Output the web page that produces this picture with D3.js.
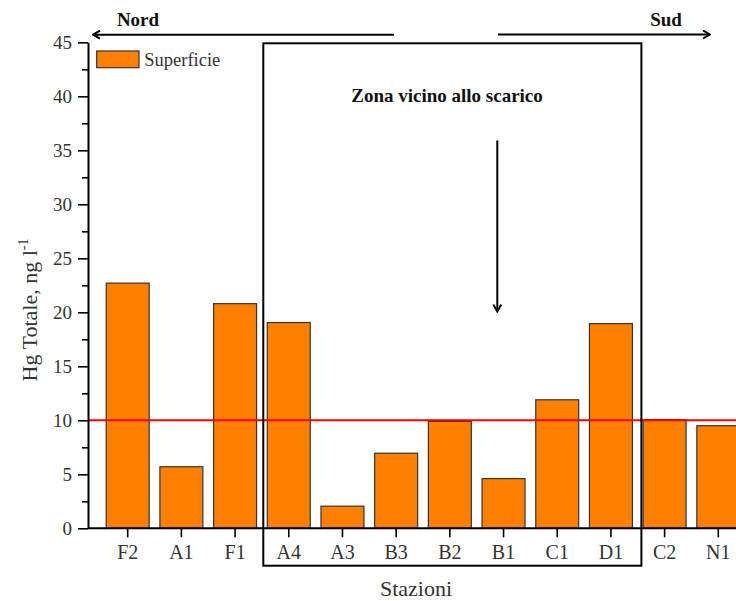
<!DOCTYPE html>
<html>
<head>
<meta charset="utf-8">
<script src="https://cdn.jsdelivr.net/npm/d3@7"></script>
<style>
  html, body { margin: 0; padding: 0; background: #fff; }
  svg { display: block; font-family: "Liberation Serif", "Times New Roman", serif; }
</style>
</head>
<body>
<svg id="chart" width="736" height="601"></svg>
<script>
// ---- data ----
const stations = ["F2", "A1", "F1", "A4", "A3", "B3", "B2", "B1", "C1", "D1", "C2", "N1"];
const superficie = [22.7, 5.7, 20.8, 19.05, 2.05, 6.95, 9.9, 4.6, 11.9, 18.95, 10.05, 9.5];
const yTicks = [0, 5, 10, 15, 20, 25, 30, 35, 40, 45];
const yMinorTicks = [2.5, 7.5, 12.5, 17.5, 22.5, 27.5, 32.5, 37.5, 42.5];
const threshold = [10];
const seriesName = ["Superficie"];
const zoneStations = ["A4", "D1"];

const svg = d3.select("#chart");
const W = 736, H = 601;

const y = d3.scaleLinear().domain([0, 45]).range([528.3, 42.3]);
const x = d3.scaleBand().domain(stations).range([100.85, 745.15])
  .paddingInner(0.2).paddingOuter(0.1);
const axisX = 88;

const defs = svg.append("defs");
defs.append("marker")
  .attr("id", "chev").attr("viewBox", "0 0 10 10")
  .attr("refX", 9).attr("refY", 5)
  .attr("markerWidth", 10).attr("markerHeight", 10)
  .attr("markerUnits", "userSpaceOnUse")
  .attr("orient", "auto")
  .append("path").attr("d", "M2,1 L9,5 L2,9")
  .attr("fill", "none").attr("stroke", "#000").attr("stroke-width", 2);

// bars
svg.append("g").selectAll("rect").data(stations).join("rect")
  .attr("x", d => x(d))
  .attr("y", (d, i) => y(superficie[i]))
  .attr("width", x.bandwidth())
  .attr("height", (d, i) => y(0) - y(superficie[i]))
  .attr("fill", "#ff8000")
  .attr("stroke", "#333")
  .attr("stroke-width", 1.2);

// threshold line
svg.append("g").selectAll("line").data(threshold).join("line")
  .attr("x1", axisX).attr("x2", W)
  .attr("y1", d => y(d)).attr("y2", d => y(d))
  .attr("stroke", "#ff0000").attr("stroke-width", 2);

// y axis
const gy = svg.append("g").attr("transform", `translate(${axisX},0)`);
gy.call(d3.axisLeft(y).tickValues(yMinorTicks).tickSize(6).tickFormat(""))
  .call(g => g.select(".domain").remove());
gy.append("g").call(d3.axisLeft(y).tickValues(yTicks).tickSize(10).tickSizeOuter(0).tickPadding(6))
  .call(g => g.select(".domain").attr("stroke-width", 2))
  .call(g => g.selectAll("text").attr("font-size", 19).attr("fill", "#333")
    .attr("font-family", "Liberation Serif"));
gy.selectAll("line").attr("stroke-width", 1.6);

// x axis
const gx = svg.append("g").attr("transform", `translate(0,${y(0)})`);
gx.call(d3.axisBottom(x).tickSize(9).tickSizeOuter(0).tickPadding(8))
  .call(g => g.select(".domain").attr("d", `M${axisX},0H${W}`).attr("stroke-width", 2))
  .call(g => g.selectAll("line").attr("stroke-width", 1.6))
  .call(g => g.selectAll("text").attr("font-size", 20).attr("fill", "#333")
    .attr("font-family", "Liberation Serif"));

// zone box
const boxL = x(zoneStations[0]) - 4;
const boxR = x(zoneStations[1]) + x.bandwidth() + 9;
svg.append("rect")
  .attr("x", boxL).attr("y", y(45) + 1)
  .attr("width", boxR - boxL).attr("height", 565.7 - y(45) - 1)
  .attr("fill", "none").attr("stroke", "#000").attr("stroke-width", 2);

// zone label and arrow
svg.append("text").attr("x", 447).attr("y", 101.5)
  .attr("text-anchor", "middle").attr("font-weight", "bold").attr("font-size", 19)
  .attr("fill", "#111").text("Zona vicino allo scarico");
svg.append("line").attr("x1", 497.3).attr("x2", 497.3)
  .attr("y1", 140.5).attr("y2", 311.5)
  .attr("stroke", "#000").attr("stroke-width", 2).attr("marker-end", "url(#chev)");

// Nord / Sud arrows
svg.append("line").attr("x1", 394).attr("x2", 93).attr("y1", 34.7).attr("y2", 34.7)
  .attr("stroke", "#000").attr("stroke-width", 2).attr("marker-end", "url(#chev)");
svg.append("line").attr("x1", 498).attr("x2", 710).attr("y1", 34.5).attr("y2", 34.5)
  .attr("stroke", "#000").attr("stroke-width", 2).attr("marker-end", "url(#chev)");
svg.append("text").attr("x", 138).attr("y", 26).attr("text-anchor", "middle")
  .attr("font-weight", "bold").attr("font-size", 19).attr("fill", "#111").text("Nord");
svg.append("text").attr("x", 666).attr("y", 26).attr("text-anchor", "middle")
  .attr("font-weight", "bold").attr("font-size", 19).attr("fill", "#111").text("Sud");

// legend
const lg = svg.append("g");
lg.append("rect").attr("x", 96.7).attr("y", 51).attr("width", 42.3).attr("height", 16.7)
  .attr("fill", "#ff8000").attr("stroke", "#333").attr("stroke-width", 1.2);
lg.append("text").attr("x", 144.3).attr("y", 65.5).attr("font-size", 18.5)
  .attr("fill", "#333").text(seriesName[0]);

// axis titles
svg.append("text").attr("x", 416).attr("y", 596).attr("text-anchor", "middle")
  .attr("font-size", 22).attr("fill", "#333").text("Stazioni");
const yl = svg.append("text")
  .attr("transform", "translate(37,310) rotate(-90)")
  .attr("text-anchor", "middle").attr("font-size", 22).attr("fill", "#333");
yl.append("tspan").text("Hg Totale, ng l");
yl.append("tspan").attr("dy", -9).attr("font-size", 14).text("-1");
</script>
</body>
</html>
